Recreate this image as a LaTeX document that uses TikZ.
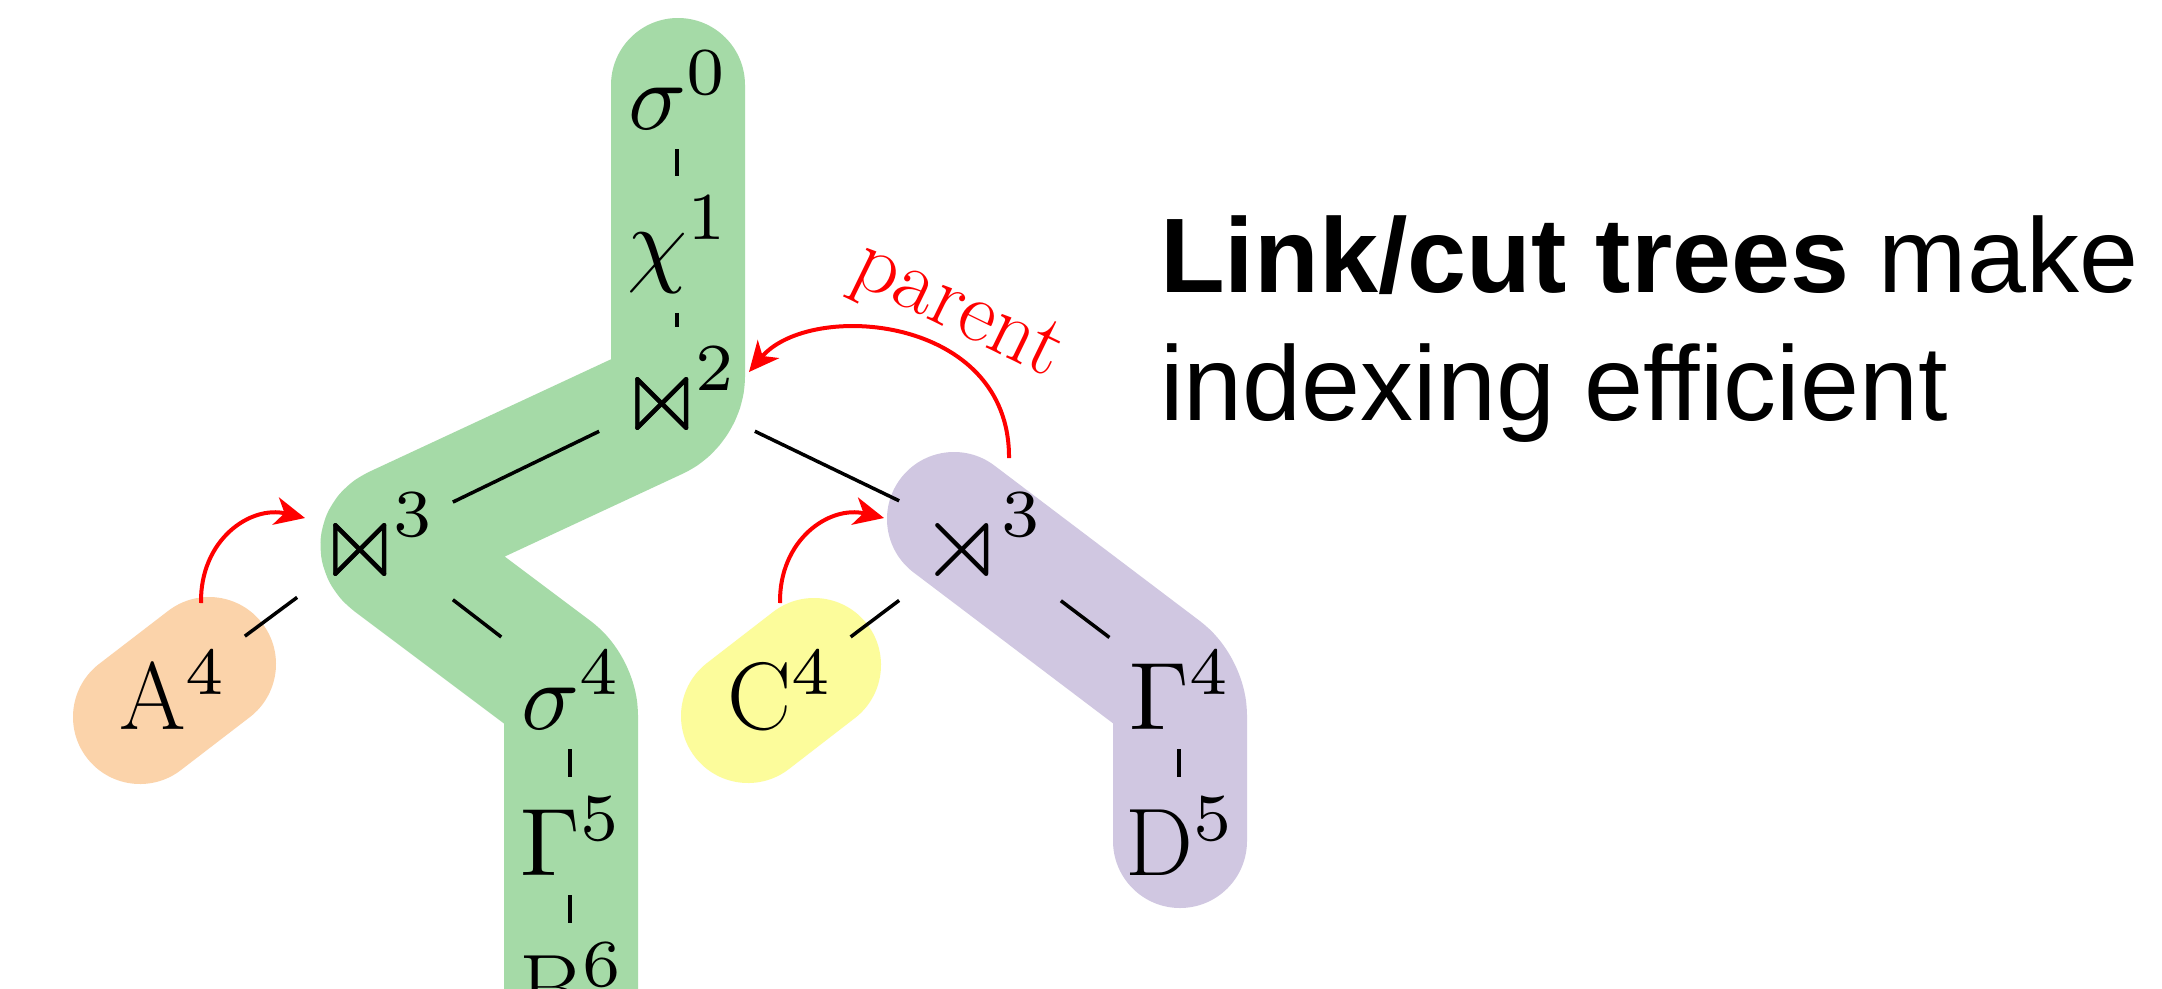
\documentclass[tikz,border=0pt]{standalone}
\usepackage{amssymb}
\usepackage{fontspec}
\newfontfamily\arialfont{Liberation Sans}
\DeclareFontShape{OML}{cmm}{m}{it}{<-50>cmmi5<50-80>cmmi7<80->cmmi10}{}
\DeclareFontShape{OMS}{cmsy}{m}{n}{<-50>cmsy5<50-80>cmsy7<80->cmsy10}{}
\DeclareFontShape{OT1}{cmr}{m}{n}{<-50>cmr5<50-80>cmr7<80->cmr10}{}
\DeclareFontShape{OMX}{cmex}{m}{n}{<->cmex10}{}
\newcommand{\tiebow}{\mathord{\hbox{\fontsize{110}{120}\selectfont\ooalign{$\ltimes$\cr$\rtimes$\cr}\kern-9pt}}}
\newcommand{\semirt}{\mathord{\hbox{\fontsize{110}{120}\selectfont$\rtimes$\kern-3pt}}}
\usetikzlibrary{arrows.meta}
\definecolor{hlgreen}{RGB}{165,218,167}
\definecolor{hlpurple}{RGB}{208,199,225}
\definecolor{hlorange}{RGB}{251,211,170}
\definecolor{hlyellow}{RGB}{252,252,155}
\begin{document}
\begin{tikzpicture}[x=1pt,y=1pt,
  mnode/.style={inner sep=20pt, anchor=base, font=\fontsize{96}{115}\selectfont},
  tedge/.style={line width=3.5pt},
  hl/.style={line width=134pt, line cap=round, line join=round, rounded corners=25pt},
  parr/.style={red, line width=4pt, -{Stealth[length=30pt,width=28pt,inset=9pt]}},
  caption/.style={anchor=base west, inner sep=0pt, font=\arialfont\fontsize{106}{128}\selectfont}]
\fill[white] (0,0) rectangle (2162,-988);
\useasboundingbox (0,0) rectangle (2162,-988);
% highlighted preferred paths
\draw[hl, draw=hlgreen] (678,-85) -- (678,-402) -- (375,-543) -- (571,-690) -- (571,-1150);
\draw[hl, draw=hlpurple] (954,-519) -- (1180,-690) -- (1180,-841);
\draw[hl, draw=hlorange] (140,-717) -- (209,-664);
\draw[hl, draw=hlyellow] (748,-716) -- (814,-665);
% tree nodes
\node[mnode] (s0) at (677,-129) {$\sigma^0$};
\node[mnode] (c1) at (677,-274) {$\chi^1$};
\node[mnode] (b2) at (677,-431) {$\tiebow^2$};
\node[mnode] (b3) at (375,-577) {$\tiebow^3$};
\node[mnode] (r3) at (980,-577) {$\semirt^3$};
\node[mnode] (a4) at (172,-729) {$\mathrm{A}^4$};
\node[mnode] (s4) at (570,-729) {$\sigma^4$};
\node[mnode] (c4) at (779,-729) {$\mathrm{C}^4$};
\node[mnode] (g4) at (1179,-729) {$\Gamma^4$};
\node[mnode] (g5) at (570,-875) {$\Gamma^5$};
\node[mnode] (d5) at (1179,-875) {$\mathrm{D}^5$};
\node[mnode] (b6) at (570,-1021) {$\mathrm{B}^6$};
% tree edges
\draw[tedge] (s0) -- (c1);
\draw[tedge] (c1) -- (b2);
\draw[tedge] (b2) -- (b3);
\draw[tedge] (b2) -- (r3);
\draw[tedge] (b3) -- (a4);
\draw[tedge] (b3) -- (s4);
\draw[tedge] (r3) -- (c4);
\draw[tedge] (r3) -- (g4);
\draw[tedge] (s4) -- (g5);
\draw[tedge] (g5) -- (b6);
\draw[tedge] (g4) -- (d5);
% parent pointers
\coordinate (aStart) at (201,-603);
\coordinate (aEnd) at (305,-518);
\coordinate (cStart) at (780,-603);
\coordinate (cEnd) at (884,-518);
\coordinate (pStart) at (1009,-458);
\coordinate (pEnd) at (749,-372);
\draw[parr] (aStart) .. controls (200,-540) and (250,-505) .. (aEnd);
\draw[parr] (cStart) .. controls (779,-540) and (829,-505) .. (cEnd);
\draw[parr] (pStart) .. controls (1010,-315) and (810,-300) .. (pEnd);
\node[red, rotate=-26, inner sep=0pt, font=\fontsize{87}{100}\selectfont] (plabel) at (957,-313) {parent};
% caption
\node[caption] (t1) at (1160,-292) {\textbf{Link/cut trees} make};
\node[caption] (t2) at (1160,-420) {indexing efficient};
\end{tikzpicture}
\end{document}
